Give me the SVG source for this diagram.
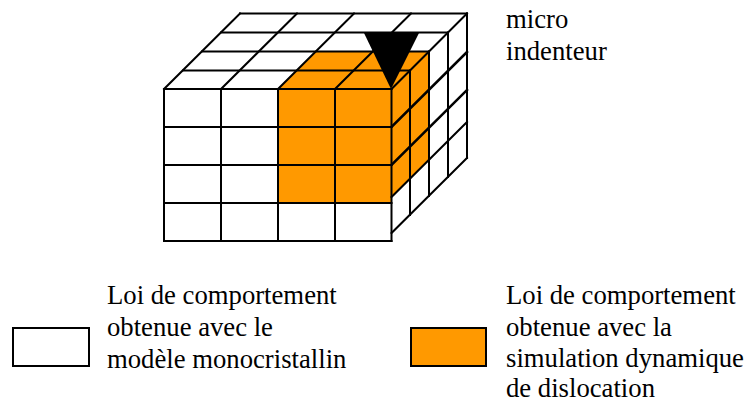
<svg xmlns="http://www.w3.org/2000/svg" width="745" height="401" viewBox="0 0 745 401">
<style>
.l{stroke:#000;stroke-width:2;fill:none;stroke-linecap:square}
.h{stroke-width:2.5}
.o{fill:#ff9900;stroke:none}
.b{fill:#fff;stroke:#000;stroke-width:2}
text{font-family:"Liberation Serif","Times New Roman",serif;font-size:26.7px;fill:#000}
</style>
<rect width="745" height="401" fill="#fff"/>
<g id="orange-faces">
<polygon class="o" points="278,89 316,51.5 429,51.5 429,159 391.5,197 391.5,203 278,203"/>
</g>
<g id="connectors">
<path class="l" d="M164,89H391.500M164,127H391.500M164,165H391.500M164,203H391.500M164,241H391.500"/>
<path class="l" d="M164,89V241M221,89V241M278,89V241M335,89V241M391.500,89V241"/>
<path class="l" d="M240,13.500H467M221,32.500H448M202,51.500H429M183,70.500H410"/>
<path class="l" d="M164,89L240,13.500M221,89L297,13.500M278,89L354,13.500M335,89L411,13.500M391.500,89L467,13.500"/>
<path class="l" d="M410,70.500V215M429,51.500V196M448,32.500V177M467,13.500V158"/>
<path class="l h" d="M391.500,127L467,52M391.500,165L467,90"/>
<path class="l" d="M391.500,197L467,122M391.500,233L467,158"/>
</g>
<g id="indenter"><polygon points="364,33 419,33 391,89" fill="#000"/></g>
<g id="label-indenter"><text x="506" y="28">micro</text><text x="506" y="60">indenteur</text></g>
<g id="legend-white"><rect class="b" x="13" y="328" width="76" height="38"/>
<text x="107" y="304">Loi de comportement</text><text x="107" y="336">obtenue avec le</text><text x="107" y="368">modèle monocristallin</text></g>
<g id="legend-orange"><rect x="411" y="328" width="75" height="38" fill="#ff9900" stroke="#000" stroke-width="2"/>
<text x="506" y="304">Loi de comportement</text><text x="506" y="336">obtenue avec la</text><text x="506" y="367">simulation dynamique</text><text x="506" y="397">de dislocation</text></g>
</svg>
